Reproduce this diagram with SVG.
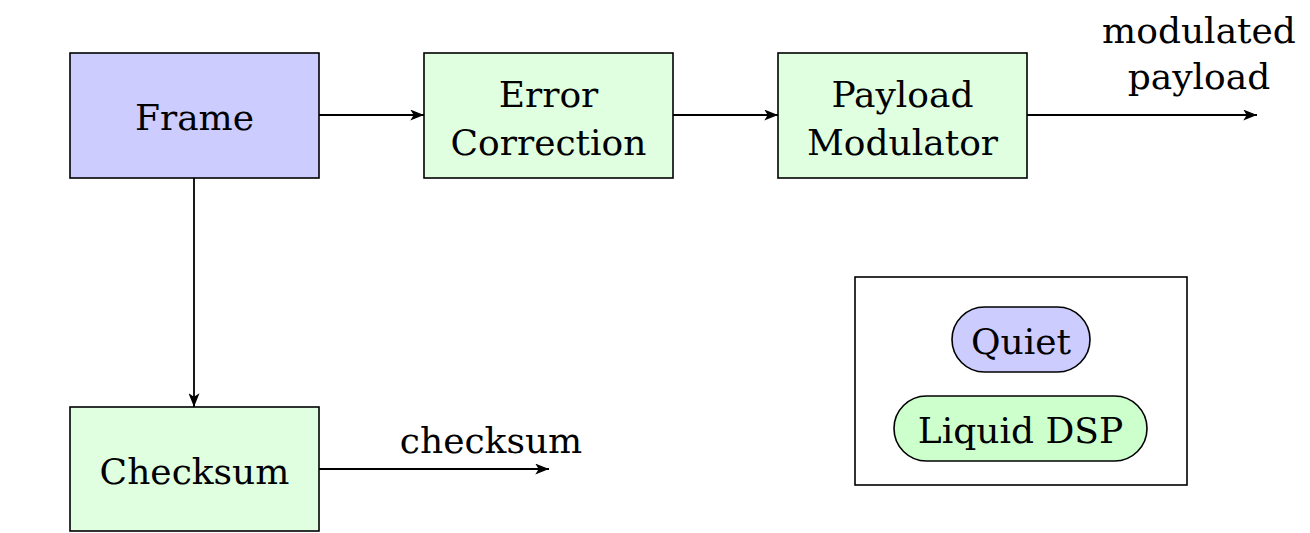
<svg xmlns="http://www.w3.org/2000/svg" width="1310" height="533" viewBox="0 0 1310 533">
<style>
.box{stroke:#000;stroke-width:1.6}
.frame{fill:#ccccff}
.green{fill:#e0ffe0}
text{font-family:'DejaVu Serif',serif;font-size:36px;fill:#000;text-anchor:middle}
.edge{stroke:#000;stroke-width:1.8;fill:none;marker-end:url(#ah)}
</style>
<defs>
<marker id="ah" viewBox="0 0 10 8" refX="10" refY="4" markerUnits="userSpaceOnUse" markerWidth="14" markerHeight="11" orient="auto">
<path d="M0,0 L10,4 L0,8 L2.5,4 Z" fill="#000"/>
</marker>
</defs>
<rect width="1310" height="533" fill="#fff"/>
<g id="connectors">
<line class="edge" x1="319" y1="115" x2="424" y2="115"/>
<line class="edge" x1="673" y1="115" x2="778" y2="115"/>
<line class="edge" x1="1027" y1="115" x2="1257" y2="115"/>
<line class="edge" x1="194" y1="178" x2="194" y2="407"/>
<line class="edge" x1="319" y1="469" x2="549" y2="469"/>
<text x="1199" y="43">modulated</text>
<text x="1199" y="89">payload</text>
<text x="491" y="453">checksum</text>
</g>
<g id="frame">
<rect class="box frame" x="70" y="53" width="249" height="125"/>
<text x="194.5" y="130">Frame</text>
</g>
<g id="error-correction">
<rect class="box green" x="424" y="53" width="249" height="125"/>
<text x="548.5" y="107">Error</text>
<text x="548.5" y="155">Correction</text>
</g>
<g id="payload-modulator">
<rect class="box green" x="778" y="53" width="249" height="125"/>
<text x="902.5" y="107">Payload</text>
<text x="902.5" y="155">Modulator</text>
</g>
<g id="checksum">
<rect class="box green" x="70" y="407" width="249" height="124"/>
<text x="194.5" y="484">Checksum</text>
</g>
<g id="legend">
<rect class="box" fill="#fff" x="855" y="277" width="332" height="208"/>
<rect class="box" fill="#ccccff" x="952" y="307" width="138" height="65" rx="32.5"/>
<text x="1021" y="354">Quiet</text>
<rect class="box" fill="#ccffcc" x="894" y="396" width="253" height="65" rx="32.5"/>
<text x="1020.5" y="443">Liquid DSP</text>
</g>
</svg>
